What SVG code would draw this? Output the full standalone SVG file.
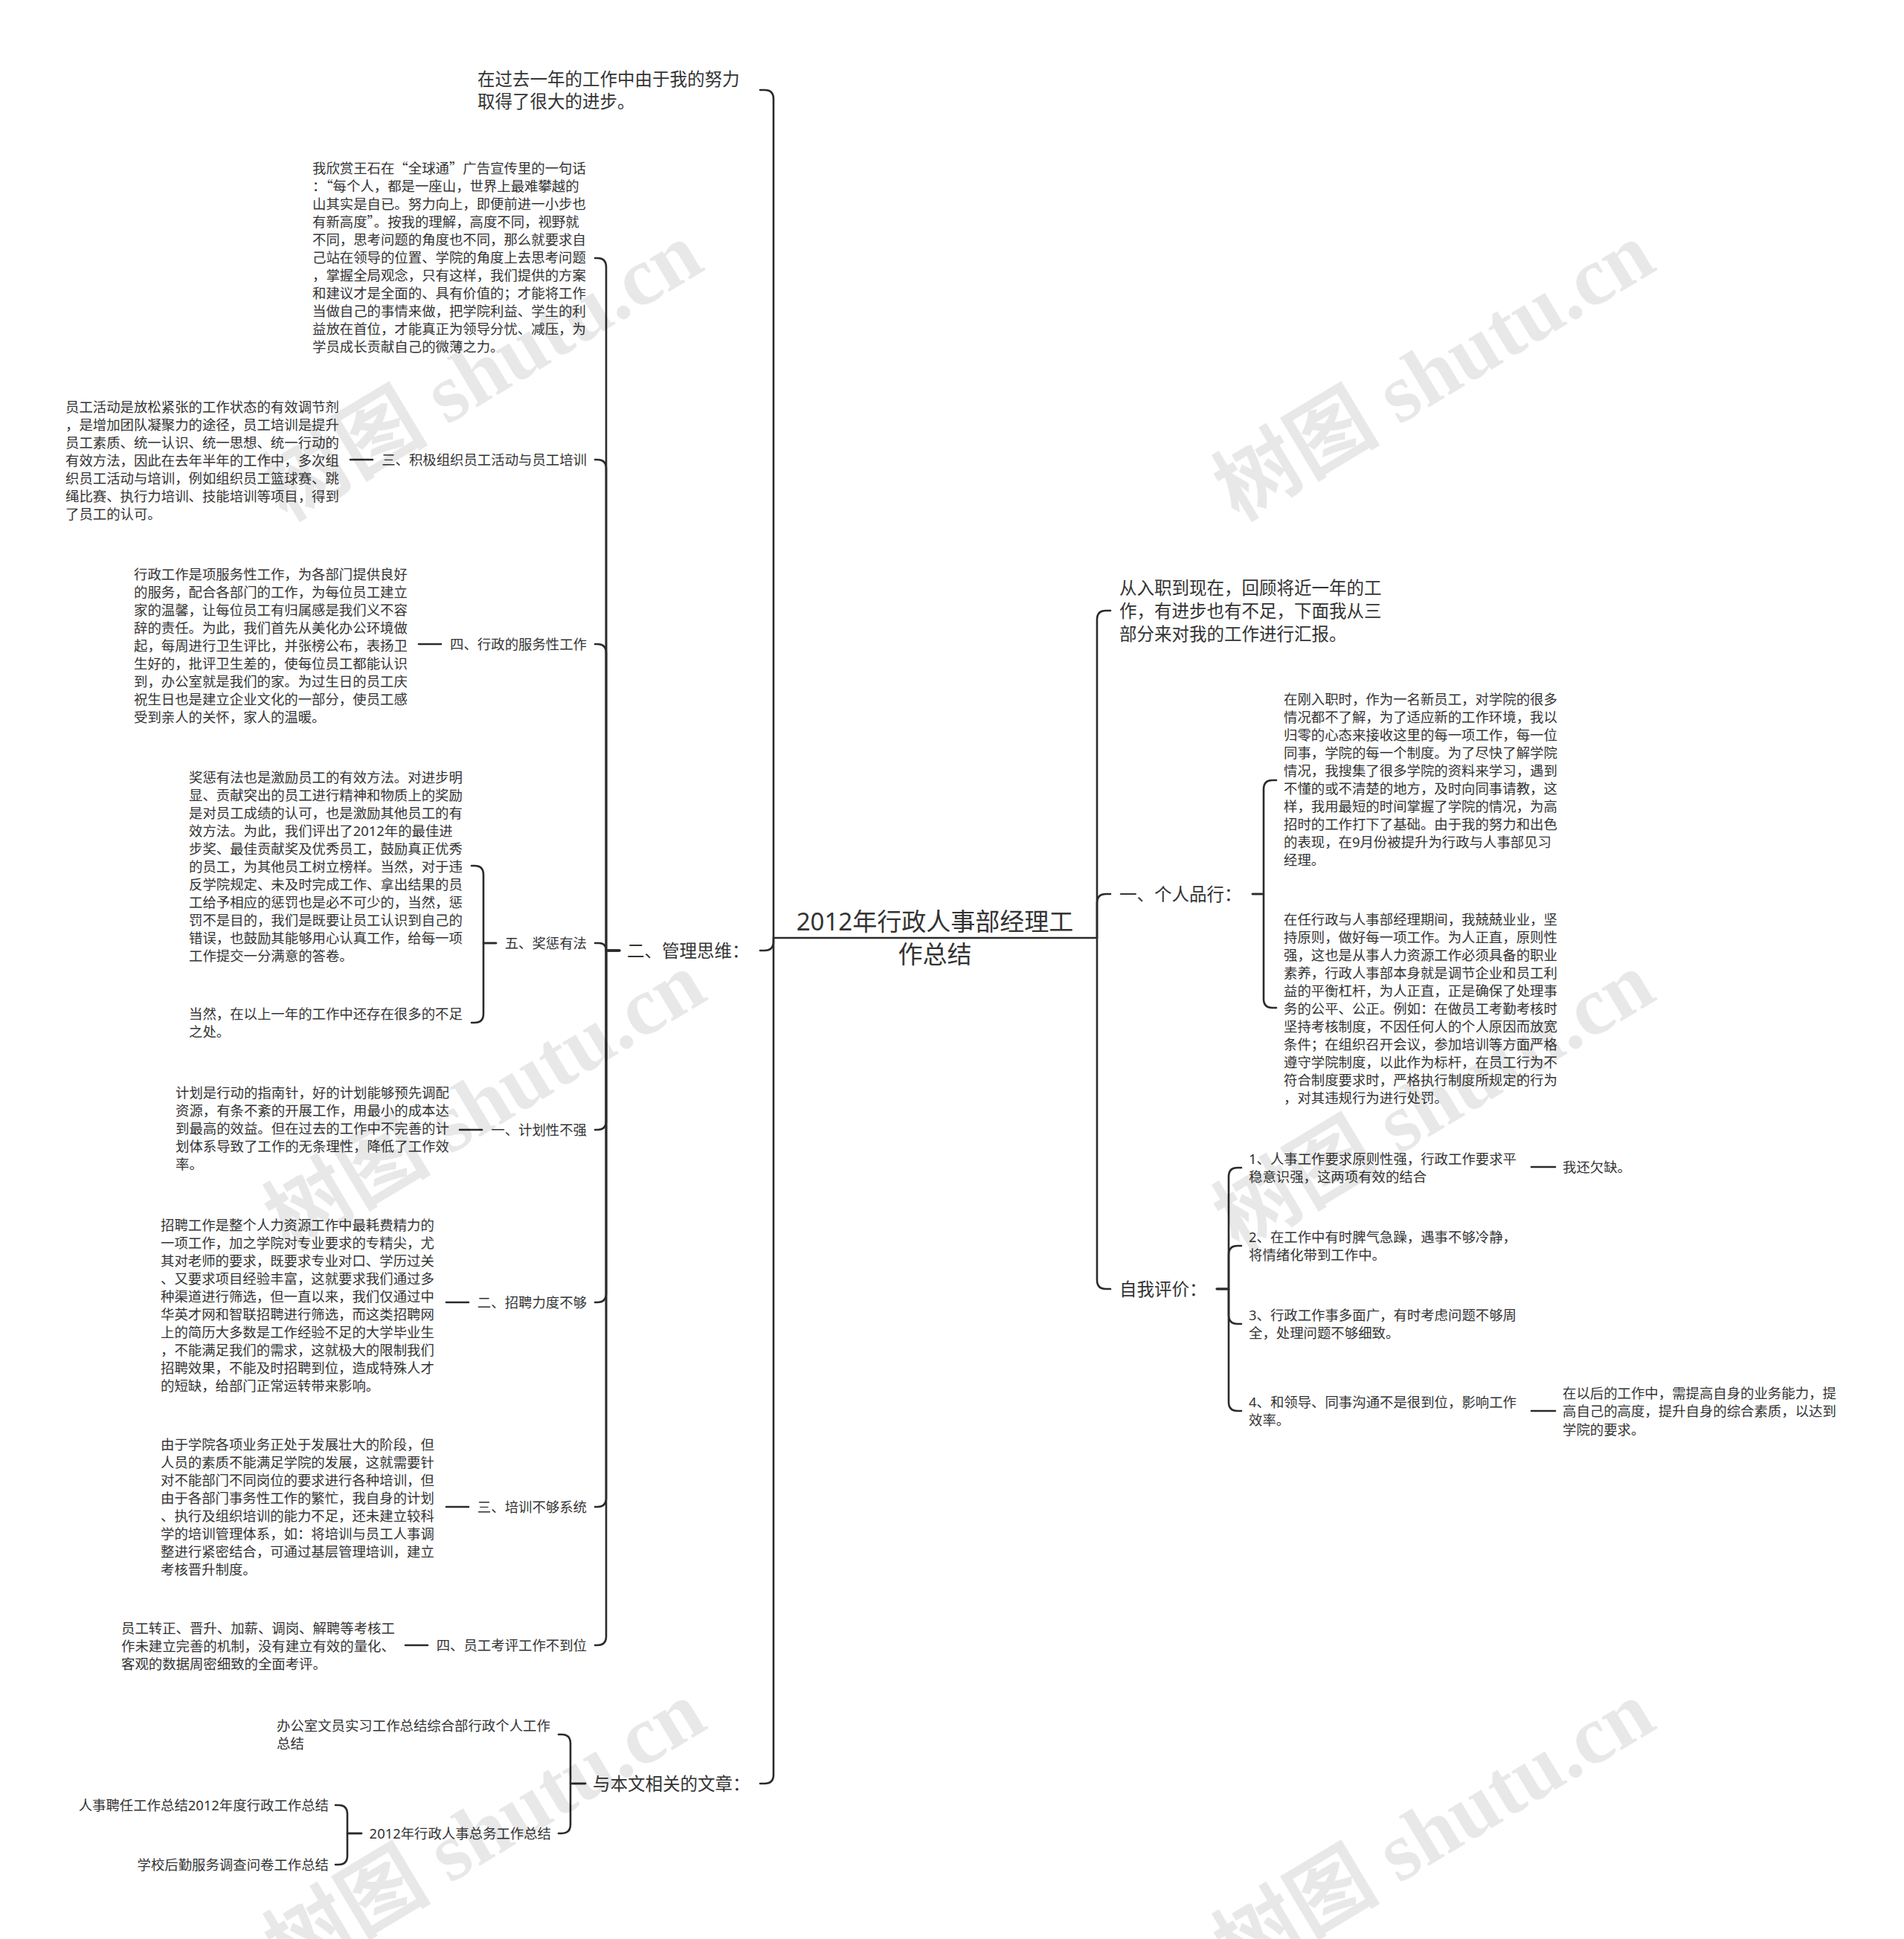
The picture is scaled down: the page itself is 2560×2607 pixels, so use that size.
<svg xmlns="http://www.w3.org/2000/svg" width="2560" height="2607" viewBox="0 0 2560 2607">
<style>
text{font-family:"Noto Sans","Noto Sans CJK SC",sans-serif;fill:#333}
.t1{font-size:23.5px}
.t2{font-size:18.4px}
.tc{font-size:33px}
.e{text-anchor:end}
.m{text-anchor:middle}
.q{font-family:"Noto Sans CJK SC",sans-serif}
#connectors path{fill:none;stroke:#2a2a2a;stroke-width:2.6;stroke-linecap:round;stroke-linejoin:round}
.wm{font-family:"Liberation Serif","Noto Sans CJK SC",serif;font-size:112px;font-weight:bold;fill:#000;fill-opacity:0.09}
</style>
<rect width="2560" height="2607" fill="#fff"/>

<g id="connectors">
<path d="M1040 1261 V133 Q1040 121 1028 121 H1022"/>
<path d="M1040 1261 V1266 Q1040 1278 1028 1278 H1022"/>
<path d="M1040 1261 V2386 Q1040 2398 1028 2398 H1022"/>
<path d="M1475 1261 V833 Q1475 821 1487 821 H1493"/>
<path d="M1475 1261 V1214 Q1475 1202 1487 1202 H1493"/>
<path d="M1475 1261 V1721 Q1475 1733 1487 1733 H1493"/>
<path d="M833 1278 H815 V359 Q815 347 803 347 H800"/>
<path d="M833 1278 H815 V630 Q815 618 803 618 H800"/>
<path d="M833 1278 H815 V878 Q815 866 803 866 H800"/>
<path d="M833 1278 H815 Q815 1268 805 1268 H800"/>
<path d="M833 1278 H815 V1507 Q815 1519 803 1519 H800"/>
<path d="M833 1278 H815 V1739 Q815 1751 803 1751 H800"/>
<path d="M833 1278 H815 V2014 Q815 2026 803 2026 H800"/>
<path d="M833 1278 H815 V2200 Q815 2212 803 2212 H800"/>
<path d="M501 618 H471"/>
<path d="M593 866 H563"/>
<path d="M667 1268 H650 V1176 Q650 1164 638 1164 H634"/>
<path d="M667 1268 H650 V1363 Q650 1375 638 1375 H634"/>
<path d="M648 1519 H618"/>
<path d="M630 1751 H600"/>
<path d="M630 2026 H600"/>
<path d="M575 2212 H545"/>
<path d="M787 2398 H767 V2344 Q767 2332 755 2332 H751"/>
<path d="M787 2398 H767 V2453 Q767 2465 755 2465 H751"/>
<path d="M486 2465 H467 V2439 Q467 2427 455 2427 H451"/>
<path d="M486 2465 H467 V2495 Q467 2507 455 2507 H451"/>
<path d="M1684 1202 H1699 V1061 Q1699 1049 1711 1049 H1716"/>
<path d="M1684 1202 H1699 V1343 Q1699 1355 1711 1355 H1716"/>
<path d="M1636 1733 H1652 V1582 Q1652 1570 1664 1570 H1669"/>
<path d="M1636 1733 H1652 V1687 Q1652 1675 1664 1675 H1669"/>
<path d="M1636 1733 H1652 V1768 Q1652 1780 1664 1780 H1669"/>
<path d="M1636 1733 H1652 V1885 Q1652 1897 1664 1897 H1669"/>
<path d="M2059 1569 H2091"/>
<path d="M2059 1897 H2091"/>
</g>

<g id="root">
<path d="M1040 1261 H1475" fill="none" stroke="#2a2a2a" stroke-width="2.6"/>
<text class="tc m"><tspan x="1257" y="1251">2012年行政人事部经理工</tspan><tspan x="1257" y="1295">作总结</tspan></text>
</g>

<g id="n-progress">
<text class="t1"><tspan x="642" y="114.6">在过去一年的工作中由于我的努力</tspan><tspan x="642" y="144.6">取得了很大的进步。</tspan></text>
</g>

<g id="n-mgmt">
<text class="t1" x="843" y="1286.6">二、管理思维：</text>
</g>

<g id="n-wangshi">
<text class="t2"><tspan x="420" y="233.3">我欣赏王石在<tspan class="q">“</tspan>全球通<tspan class="q">”</tspan>广告宣传里的一句话</tspan><tspan x="420" y="257.3">：<tspan class="q">“</tspan>每个人，都是一座山，世界上最难攀越的</tspan><tspan x="420" y="281.3">山其实是自已。努力向上，即便前进一小步也</tspan><tspan x="420" y="305.3">有新高度<tspan class="q">”</tspan>。按我的理解，高度不同，视野就</tspan><tspan x="420" y="329.3">不同，思考问题的角度也不同，那么就要求自</tspan><tspan x="420" y="353.3">己站在领导的位置、学院的角度上去思考问题</tspan><tspan x="420" y="377.3">，掌握全局观念，只有这样，我们提供的方案</tspan><tspan x="420" y="401.3">和建议才是全面的、具有价值的；才能将工作</tspan><tspan x="420" y="425.3">当做自己的事情来做，把学院利益、学生的利</tspan><tspan x="420" y="449.3">益放在首位，才能真正为领导分忧、减压，为</tspan><tspan x="420" y="473.3">学员成长贡献自己的微薄之力。</tspan></text>
</g>

<g id="n-activity">
<text class="t2 e" x="789" y="624.8">三、积极组织员工活动与员工培训</text>
</g>
<g id="n-activity-leaf">
<text class="t2"><tspan x="88" y="553.8">员工活动是放松紧张的工作状态的有效调节剂</tspan><tspan x="88" y="577.8">，是增加团队凝聚力的途径，员工培训是提升</tspan><tspan x="88" y="601.8">员工素质、统一认识、统一思想、统一行动的</tspan><tspan x="88" y="625.8">有效方法，因此在去年半年的工作中，多次组</tspan><tspan x="88" y="649.8">织员工活动与培训，例如组织员工篮球赛、跳</tspan><tspan x="88" y="673.8">绳比赛、执行力培训、技能培训等项目，得到</tspan><tspan x="88" y="697.8">了员工的认可。</tspan></text>
</g>

<g id="n-service">
<text class="t2 e" x="789" y="872.8">四、行政的服务性工作</text>
</g>
<g id="n-service-leaf">
<text class="t2"><tspan x="180" y="778.8">行政工作是项服务性工作，为各部门提供良好</tspan><tspan x="180" y="802.8">的服务，配合各部门的工作，为每位员工建立</tspan><tspan x="180" y="826.8">家的温馨，让每位员工有归属感是我们义不容</tspan><tspan x="180" y="850.8">辞的责任。为此，我们首先从美化办公环境做</tspan><tspan x="180" y="874.8">起，每周进行卫生评比，并张榜公布，表扬卫</tspan><tspan x="180" y="898.8">生好的，批评卫生差的，使每位员工都能认识</tspan><tspan x="180" y="922.8">到，办公室就是我们的家。为过生日的员工庆</tspan><tspan x="180" y="946.8">祝生日也是建立企业文化的一部分，使员工感</tspan><tspan x="180" y="970.8">受到亲人的关怀，家人的温暖。</tspan></text>
</g>

<g id="n-reward">
<text class="t2 e" x="789" y="1274.8">五、奖惩有法</text>
</g>
<g id="n-reward-leaf1">
<text class="t2"><tspan x="254" y="1051.8">奖惩有法也是激励员工的有效方法。对进步明</tspan><tspan x="254" y="1075.8">显、贡献突出的员工进行精神和物质上的奖励</tspan><tspan x="254" y="1099.8">是对员工成绩的认可，也是激励其他员工的有</tspan><tspan x="254" y="1123.8">效方法。为此，我们评出了2012年的最佳进</tspan><tspan x="254" y="1147.8">步奖、最佳贡献奖及优秀员工，鼓励真正优秀</tspan><tspan x="254" y="1171.8">的员工，为其他员工树立榜样。当然，对于违</tspan><tspan x="254" y="1195.8">反学院规定、未及时完成工作、拿出结果的员</tspan><tspan x="254" y="1219.8">工给予相应的惩罚也是必不可少的，当然，惩</tspan><tspan x="254" y="1243.8">罚不是目的，我们是既要让员工认识到自己的</tspan><tspan x="254" y="1267.8">错误，也鼓励其能够用心认真工作，给每一项</tspan><tspan x="254" y="1291.8">工作提交一分满意的答卷。</tspan></text>
</g>
<g id="n-reward-leaf2">
<text class="t2"><tspan x="254" y="1369.8">当然，在以上一年的工作中还存在很多的不足</tspan><tspan x="254" y="1393.8">之处。</tspan></text>
</g>

<g id="n-plan">
<text class="t2 e" x="789" y="1525.8">一、计划性不强</text>
</g>
<g id="n-plan-leaf">
<text class="t2"><tspan x="236" y="1475.8">计划是行动的指南针，好的计划能够预先调配</tspan><tspan x="236" y="1499.8">资源，有条不紊的开展工作，用最小的成本达</tspan><tspan x="236" y="1523.8">到最高的效益。但在过去的工作中不完善的计</tspan><tspan x="236" y="1547.8">划体系导致了工作的无条理性，降低了工作效</tspan><tspan x="236" y="1571.8">率。</tspan></text>
</g>

<g id="n-recruit">
<text class="t2 e" x="789" y="1757.8">二、招聘力度不够</text>
</g>
<g id="n-recruit-leaf">
<text class="t2"><tspan x="216" y="1653.8">招聘工作是整个人力资源工作中最耗费精力的</tspan><tspan x="216" y="1677.8">一项工作，加之学院对专业要求的专精尖，尤</tspan><tspan x="216" y="1701.8">其对老师的要求，既要求专业对口、学历过关</tspan><tspan x="216" y="1725.8">、又要求项目经验丰富，这就要求我们通过多</tspan><tspan x="216" y="1749.8">种渠道进行筛选，但一直以来，我们仅通过中</tspan><tspan x="216" y="1773.8">华英才网和智联招聘进行筛选，而这类招聘网</tspan><tspan x="216" y="1797.8">上的简历大多数是工作经验不足的大学毕业生</tspan><tspan x="216" y="1821.8">，不能满足我们的需求，这就极大的限制我们</tspan><tspan x="216" y="1845.8">招聘效果，不能及时招聘到位，造成特殊人才</tspan><tspan x="216" y="1869.8">的短缺，给部门正常运转带来影响。</tspan></text>
</g>

<g id="n-training">
<text class="t2 e" x="789" y="2032.8">三、培训不够系统</text>
</g>
<g id="n-training-leaf">
<text class="t2"><tspan x="216" y="1949.3">由于学院各项业务正处于发展壮大的阶段，但</tspan><tspan x="216" y="1973.3">人员的素质不能满足学院的发展，这就需要针</tspan><tspan x="216" y="1997.3">对不能部门不同岗位的要求进行各种培训，但</tspan><tspan x="216" y="2021.3">由于各部门事务性工作的繁忙，我自身的计划</tspan><tspan x="216" y="2045.3">、执行及组织培训的能力不足，还未建立较科</tspan><tspan x="216" y="2069.3">学的培训管理体系，如：将培训与员工人事调</tspan><tspan x="216" y="2093.3">整进行紧密结合，可通过基层管理培训，建立</tspan><tspan x="216" y="2117.3">考核晋升制度。</tspan></text>
</g>

<g id="n-appraisal">
<text class="t2 e" x="789" y="2218.8">四、员工考评工作不到位</text>
</g>
<g id="n-appraisal-leaf">
<text class="t2"><tspan x="163" y="2195.8">员工转正、晋升、加薪、调岗、解聘等考核工</tspan><tspan x="163" y="2219.8">作未建立完善的机制，没有建立有效的量化、</tspan><tspan x="163" y="2243.8">客观的数据周密细致的全面考评。</tspan></text>
</g>

<g id="n-related">
<text class="t1" x="797" y="2406.6">与本文相关的文章：</text>
</g>
<g id="n-related-1">
<text class="t2"><tspan x="372" y="2326.8">办公室文员实习工作总结综合部行政个人工作</tspan><tspan x="372" y="2350.8">总结</tspan></text>
</g>
<g id="n-related-2">
<text class="t2 e" x="741" y="2471.8">2012年行政人事总务工作总结</text>
</g>
<g id="n-related-2a">
<text class="t2 e" x="442" y="2433.8">人事聘任工作总结2012年度行政工作总结</text>
</g>
<g id="n-related-2b">
<text class="t2 e" x="442" y="2513.8">学校后勤服务调查问卷工作总结</text>
</g>

<g id="n-intro">
<text class="t1"><tspan x="1505" y="798.6">从入职到现在，回顾将近一年的工</tspan><tspan x="1505" y="829.6">作，有进步也有不足，下面我从三</tspan><tspan x="1505" y="860.6">部分来对我的工作进行汇报。</tspan></text>
</g>

<g id="n-character">
<text class="t1" x="1505" y="1210.6">一、个人品行：</text>
</g>
<g id="n-character-1">
<text class="t2"><tspan x="1726" y="947.3">在刚入职时，作为一名新员工，对学院的很多</tspan><tspan x="1726" y="971.3">情况都不了解，为了适应新的工作环境，我以</tspan><tspan x="1726" y="995.3">归零的心态来接收这里的每一项工作，每一位</tspan><tspan x="1726" y="1019.3">同事，学院的每一个制度。为了尽快了解学院</tspan><tspan x="1726" y="1043.3">情况，我搜集了很多学院的资料来学习，遇到</tspan><tspan x="1726" y="1067.3">不懂的或不清楚的地方，及时向同事请教，这</tspan><tspan x="1726" y="1091.3">样，我用最短的时间掌握了学院的情况，为高</tspan><tspan x="1726" y="1115.3">招时的工作打下了基础。由于我的努力和出色</tspan><tspan x="1726" y="1139.3">的表现，在9月份被提升为行政与人事部见习</tspan><tspan x="1726" y="1163.3">经理。</tspan></text>
</g>
<g id="n-character-2">
<text class="t2"><tspan x="1726" y="1243.3">在任行政与人事部经理期间，我兢兢业业，坚</tspan><tspan x="1726" y="1267.3">持原则，做好每一项工作。为人正直，原则性</tspan><tspan x="1726" y="1291.3">强，这也是从事人力资源工作必须具备的职业</tspan><tspan x="1726" y="1315.3">素养，行政人事部本身就是调节企业和员工利</tspan><tspan x="1726" y="1339.3">益的平衡杠杆，为人正直，正是确保了处理事</tspan><tspan x="1726" y="1363.3">务的公平、公正。例如：在做员工考勤考核时</tspan><tspan x="1726" y="1387.3">坚持考核制度，不因任何人的个人原因而放宽</tspan><tspan x="1726" y="1411.3">条件；在组织召开会议，参加培训等方面严格</tspan><tspan x="1726" y="1435.3">遵守学院制度，以此作为标杆，在员工行为不</tspan><tspan x="1726" y="1459.3">符合制度要求时，严格执行制度所规定的行为</tspan><tspan x="1726" y="1483.3">，对其违规行为进行处罚。</tspan></text>
</g>

<g id="n-self">
<text class="t1" x="1505" y="1741.6">自我评价：</text>
</g>
<g id="n-self-1">
<text class="t2"><tspan x="1679" y="1564.8">1、人事工作要求原则性强，行政工作要求平</tspan><tspan x="1679" y="1588.8">稳意识强，这两项有效的结合</tspan></text>
</g>
<g id="n-self-1a">
<text class="t2" x="2101" y="1575.8">我还欠缺。</text>
</g>
<g id="n-self-2">
<text class="t2"><tspan x="1679" y="1669.8">2、在工作中有时脾气急躁，遇事不够冷静，</tspan><tspan x="1679" y="1693.8">将情绪化带到工作中。</tspan></text>
</g>
<g id="n-self-3">
<text class="t2"><tspan x="1679" y="1774.8">3、行政工作事多面广，有时考虑问题不够周</tspan><tspan x="1679" y="1798.8">全，处理问题不够细致。</tspan></text>
</g>
<g id="n-self-4">
<text class="t2"><tspan x="1679" y="1891.8">4、和领导、同事沟通不是很到位，影响工作</tspan><tspan x="1679" y="1915.8">效率。</tspan></text>
</g>
<g id="n-self-4a">
<text class="t2"><tspan x="2101" y="1879.8">在以后的工作中，需提高自身的业务能力，提</tspan><tspan x="2101" y="1904.3">高自己的高度，提升自身的综合素质，以达到</tspan><tspan x="2101" y="1928.8">学院的要求。</tspan></text>
</g>

<g id="watermarks">
<text class="wm m" transform="translate(648 499) rotate(-31)" y="38">树图 shutu.cn</text>
<text class="wm m" transform="translate(1928 499) rotate(-31)" y="38">树图 shutu.cn</text>
<text class="wm m" transform="translate(652 1480) rotate(-31)" y="38">树图 shutu.cn</text>
<text class="wm m" transform="translate(1928 1480) rotate(-31)" y="38">树图 shutu.cn</text>
<text class="wm m" transform="translate(652 2460) rotate(-31)" y="38">树图 shutu.cn</text>
<text class="wm m" transform="translate(1928 2460) rotate(-31)" y="38">树图 shutu.cn</text>
</g>
</svg>
